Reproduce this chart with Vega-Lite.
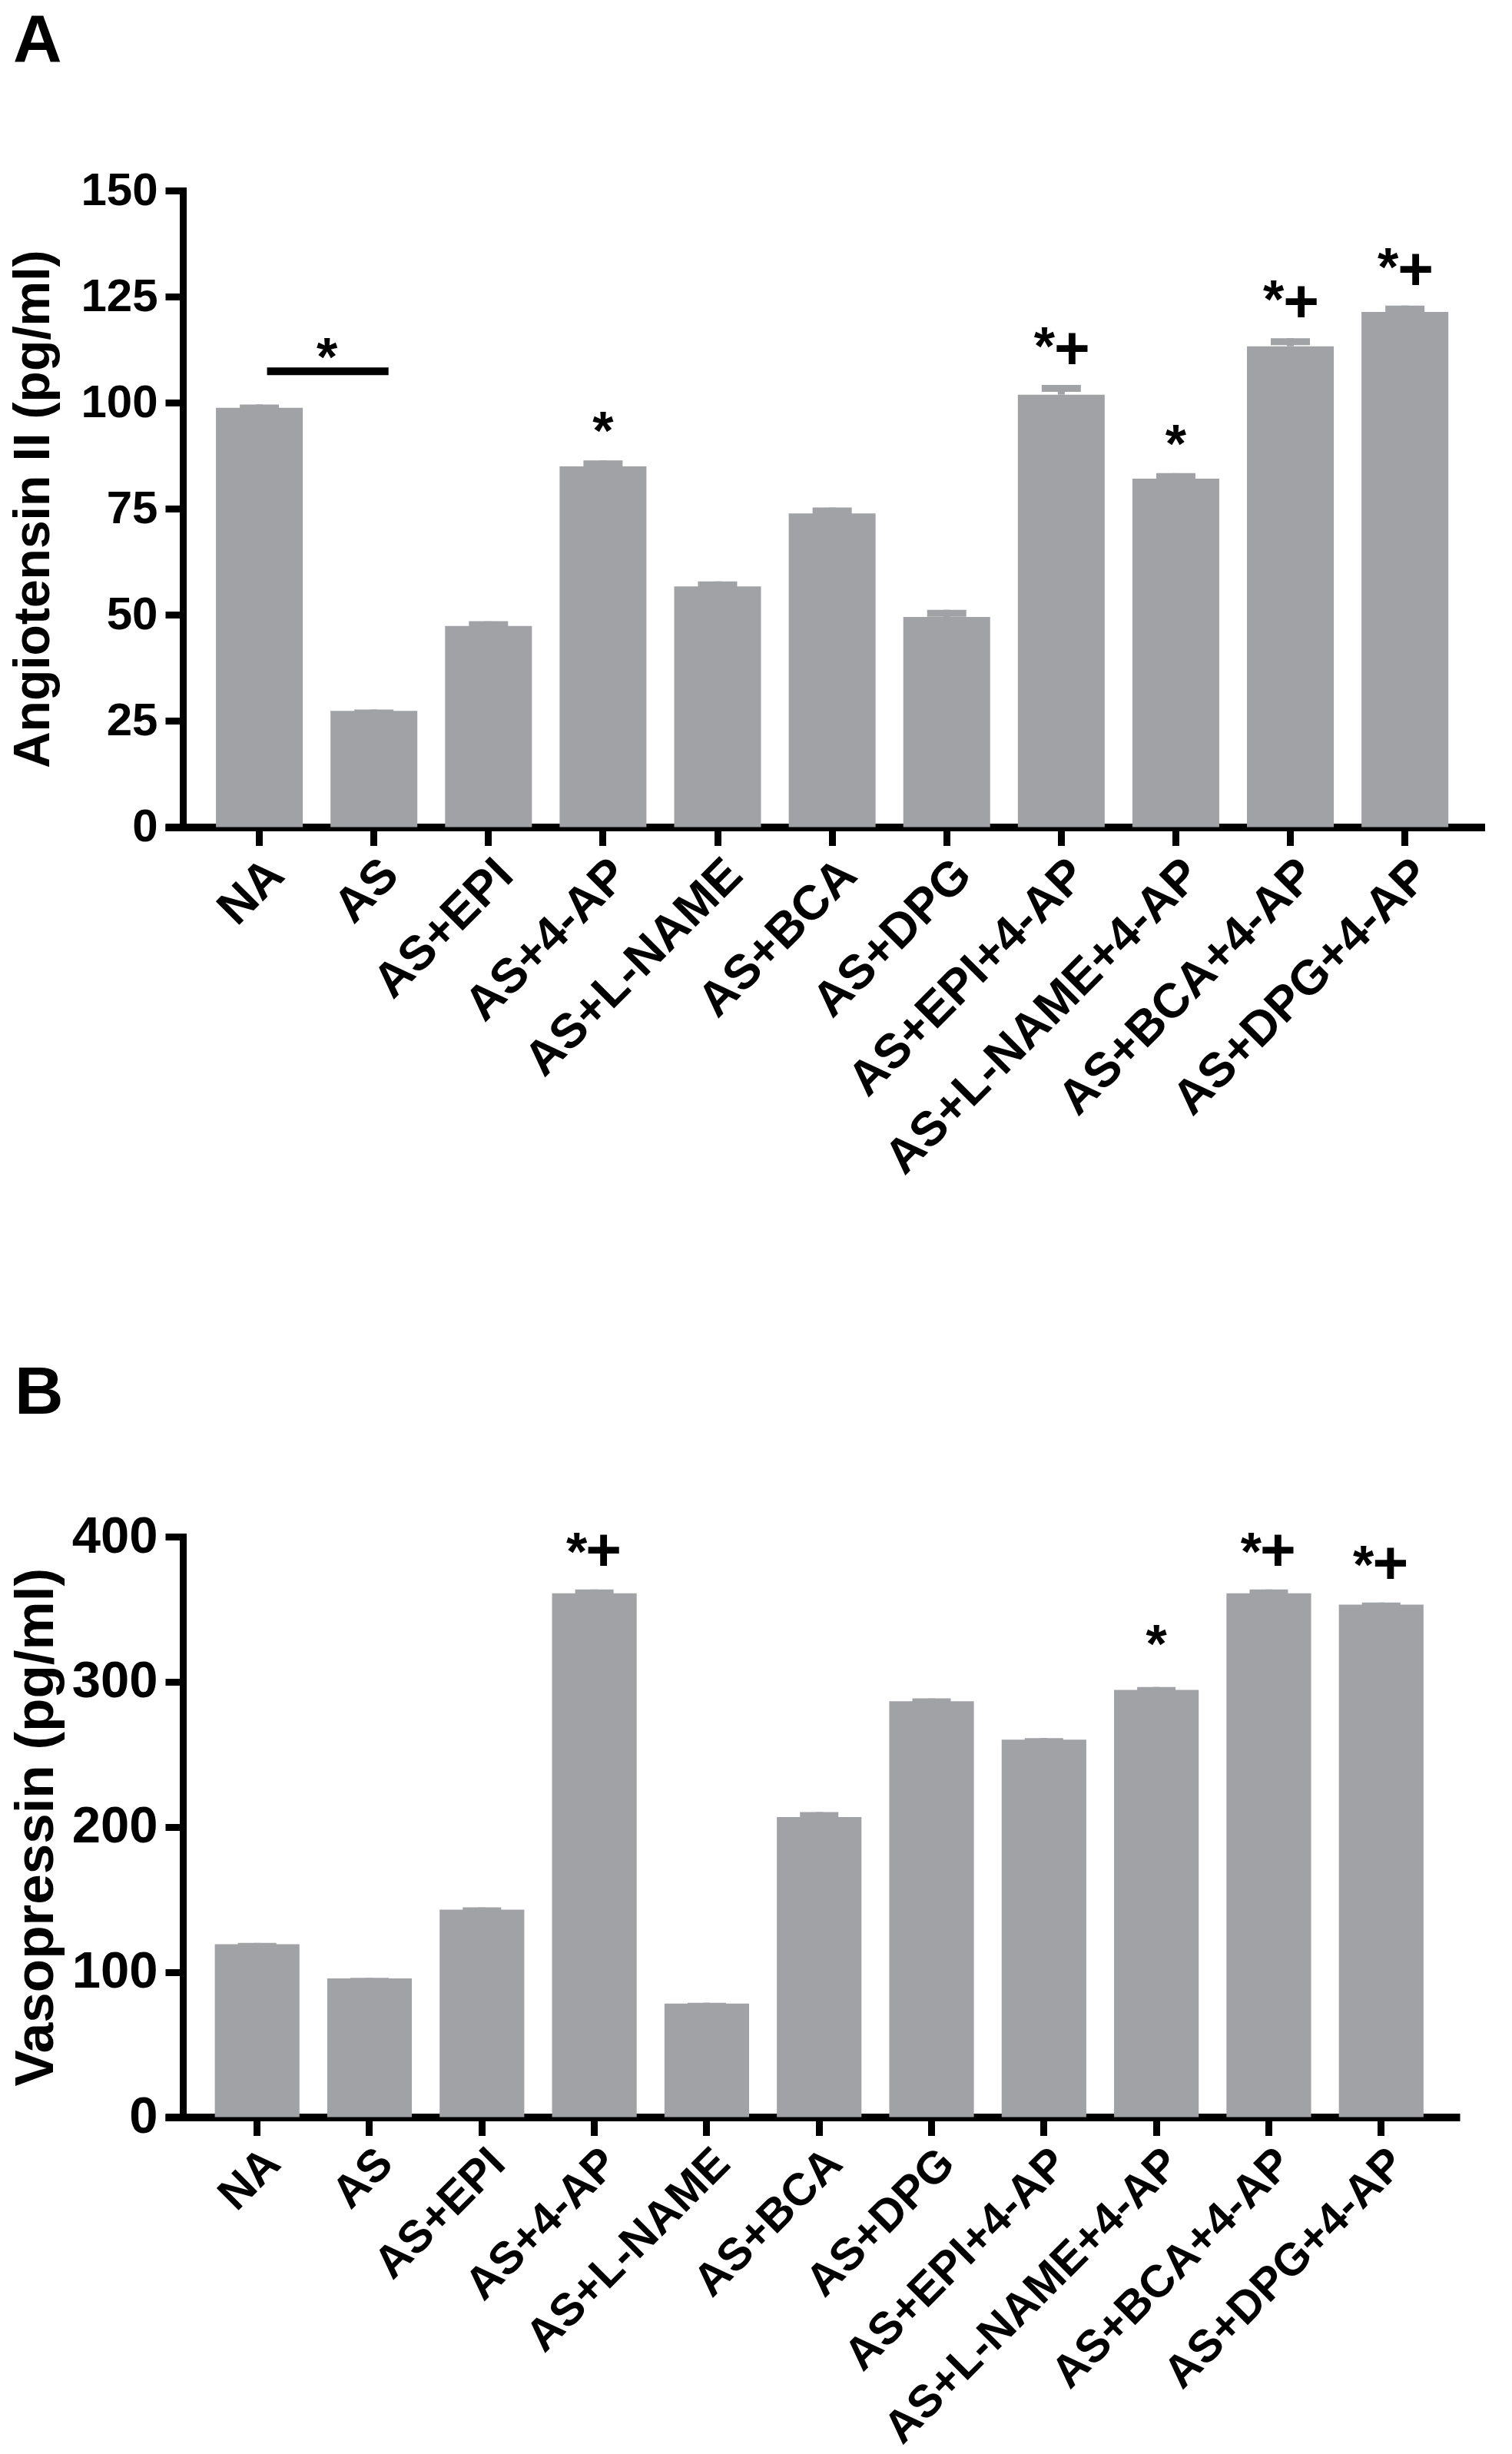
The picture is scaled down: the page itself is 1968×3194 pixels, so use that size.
{
  "$schema": "https://vega.github.io/schema/vega-lite/v6.json",
  "padding": {"left": 10, "top": 10, "right": 0, "bottom": 0},
  "bounds": "flush",
  "spacing": 923,
  "background": "white",
  "config": {
    "view": {"stroke": null},
    "font": "Liberation Sans",
    "axisY": {
      "domainColor": "black", "domainWidth": 9, "domainCap": "square",
      "tickColor": "black", "tickWidth": 9, "tickSize": 23, "tickCap": "butt",
      "labelFont": "Liberation Sans", "labelFontSize": 60, "labelFontWeight": "bold", "labelColor": "black", "labelPadding": 10,
      "titleFont": "Liberation Sans", "titleFontSize": 66, "titleFontWeight": "bold", "titleColor": "black", "titlePadding": 27,
      "grid": false, "offset": -23, "zindex": 2
    },
    "axisX": {
      "domainColor": "black", "domainWidth": 10, "domainCap": "butt",
      "tickColor": "black", "tickWidth": 9, "tickSize": 24,
      "labelFont": "Liberation Sans", "labelFontSize": 63, "labelFontWeight": "bold", "labelColor": "black", "labelPadding": 6,
      "labelAngle": -45, "labelAlign": "right", "labelBaseline": "top", "labelLimit": 2000,
      "grid": false, "title": null, "zindex": 2
    }
  },
  "datasets": {
    "angio": [
      {"group": "NA", "mean": 98.8, "upper": 99.6, "sig": ""},
      {"group": "AS", "mean": 27.4, "upper": 27.7, "sig": ""},
      {"group": "AS+EPI", "mean": 47.4, "upper": 48.5, "sig": ""},
      {"group": "AS+4-AP", "mean": 85.0, "upper": 86.4, "sig": "*"},
      {"group": "AS+L-NAME", "mean": 56.7, "upper": 57.9, "sig": ""},
      {"group": "AS+BCA", "mean": 73.9, "upper": 75.3, "sig": ""},
      {"group": "AS+DPG", "mean": 49.5, "upper": 51.2, "sig": ""},
      {"group": "AS+EPI+4-AP", "mean": 101.9, "upper": 104.2, "sig": "*+"},
      {"group": "AS+L-NAME+4-AP", "mean": 82.1, "upper": 83.4, "sig": "*"},
      {"group": "AS+BCA+4-AP", "mean": 113.3, "upper": 115.2, "sig": "*+"},
      {"group": "AS+DPG+4-AP", "mean": 121.4, "upper": 122.9, "sig": "*+"}
    ],
    "vaso": [
      {"group": "NA", "mean": 119.1, "upper": 120.0, "sig": ""},
      {"group": "AS", "mean": 95.6, "upper": 95.9, "sig": ""},
      {"group": "AS+EPI", "mean": 143.0, "upper": 144.5, "sig": ""},
      {"group": "AS+4-AP", "mean": 360.9, "upper": 363.6, "sig": "*+"},
      {"group": "AS+L-NAME", "mean": 78.2, "upper": 78.8, "sig": ""},
      {"group": "AS+BCA", "mean": 206.8, "upper": 210.2, "sig": ""},
      {"group": "AS+DPG", "mean": 286.5, "upper": 288.5, "sig": ""},
      {"group": "AS+EPI+4-AP", "mean": 260.1, "upper": 261.2, "sig": ""},
      {"group": "AS+L-NAME+4-AP", "mean": 294.4, "upper": 296.4, "sig": "*"},
      {"group": "AS+BCA+4-AP", "mean": 360.9, "upper": 363.6, "sig": "*+"},
      {"group": "AS+DPG+4-AP", "mean": 353.1, "upper": 354.6, "sig": "*+"}
    ],
    "bracket": [
      {"from": "NA", "to": "AS", "level": 107.4, "text": "*"}
    ]
  },
  "vconcat": [
    {
      "title": {"text": "A", "anchor": "start", "frame": "group", "font": "Liberation Sans", "fontSize": 88, "fontWeight": "bold", "color": "black", "baseline": "top", "offset": 0, "dx": -198, "dy": -120},
      "width": 1718,
      "height": 828.5,
      "data": {"name": "angio"},
      "encoding": {
        "x": {"field": "group", "type": "nominal", "sort": null,
              "scale": {"paddingInner": 0.242, "paddingOuter": 0.382, "align": 0.58}}
      },
      "layer": [
        {"mark": {"type": "bar", "color": "#a1a2a6"},
         "encoding": {"y": {"field": "mean", "type": "quantitative", "title": "Angiotensin II (pg/ml)",
                            "scale": {"domain": [0, 150], "nice": false}, "axis": {"values": [0, 25, 50, 75, 100, 125, 150]}}}},
        {"mark": {"type": "rule", "color": "#a1a2a6", "strokeWidth": 9},
         "encoding": {"y": {"field": "mean", "type": "quantitative", "title": "Angiotensin II (pg/ml)", "scale": {"domain": [0, 150], "nice": false}, "axis": {"values": [0, 25, 50, 75, 100, 125, 150]}}, "y2": {"field": "upper"}}},
        {"mark": {"type": "tick", "color": "#a1a2a6", "thickness": 9, "size": 51, "yOffset": 4.5, "opacity": 1},
         "encoding": {"y": {"field": "upper", "type": "quantitative", "title": "Angiotensin II (pg/ml)", "scale": {"domain": [0, 150], "nice": false}, "axis": {"values": [0, 25, 50, 75, 100, 125, 150]}}}},
        {"transform": [{"filter": "datum.sig == '*'"}],
         "mark": {"type": "text", "text": "*", "font": "Liberation Sans", "fontWeight": "bold", "fontSize": 70, "color": "black", "baseline": "alphabetic", "align": "center", "dy": -14},
         "encoding": {"y": {"field": "upper", "type": "quantitative", "title": "Angiotensin II (pg/ml)", "scale": {"domain": [0, 150], "nice": false}, "axis": {"values": [0, 25, 50, 75, 100, 125, 150]}}}},
        {"transform": [{"filter": "datum.sig == '*+'"}],
         "mark": {"type": "text", "text": "*", "font": "Liberation Sans", "fontWeight": "bold", "fontSize": 70, "color": "black", "baseline": "alphabetic", "align": "center", "dx": -22, "dy": -26},
         "encoding": {"y": {"field": "upper", "type": "quantitative", "title": "Angiotensin II (pg/ml)", "scale": {"domain": [0, 150], "nice": false}, "axis": {"values": [0, 25, 50, 75, 100, 125, 150]}}}},
        {"transform": [{"filter": "datum.sig == '*+'"}],
         "mark": {"type": "text", "text": "+", "font": "Liberation Sans", "fontWeight": "bold", "fontSize": 80, "color": "black", "baseline": "alphabetic", "align": "center", "dx": 14, "dy": -21},
         "encoding": {"y": {"field": "upper", "type": "quantitative", "title": "Angiotensin II (pg/ml)", "scale": {"domain": [0, 150], "nice": false}, "axis": {"values": [0, 25, 50, 75, 100, 125, 150]}}}},
        {"data": {"name": "bracket"},
         "mark": {"type": "rule", "color": "black", "strokeWidth": 10, "strokeCap": "butt", "xOffset": 10, "x2Offset": 19},
         "encoding": {"x": {"field": "from", "type": "nominal", "sort": null}, "x2": {"field": "to"},
                      "y": {"field": "level", "type": "quantitative", "title": "Angiotensin II (pg/ml)", "scale": {"domain": [0, 150], "nice": false}, "axis": {"values": [0, 25, 50, 75, 100, 125, 150]}}}},
        {"data": {"name": "bracket"},
         "mark": {"type": "text", "font": "Liberation Sans", "fontWeight": "bold", "fontSize": 70, "color": "black", "baseline": "alphabetic", "align": "center", "dx": 88, "dy": 6},
         "encoding": {"x": {"field": "from", "type": "nominal", "sort": null}, "text": {"field": "text"},
                      "y": {"field": "level", "type": "quantitative", "title": "Angiotensin II (pg/ml)", "scale": {"domain": [0, 150], "nice": false}, "axis": {"values": [0, 25, 50, 75, 100, 125, 150]}}}}
      ]
    },
    {
      "title": {"text": "B", "anchor": "start", "frame": "group", "font": "Liberation Sans", "fontSize": 88, "fontWeight": "bold", "color": "black", "baseline": "top", "offset": 0, "dx": -196, "dy": -108.5},
      "width": 1685,
      "height": 755.5,
      "data": {"name": "vaso"},
      "encoding": {
        "x": {"field": "group", "type": "nominal", "sort": null,
              "scale": {"paddingInner": 0.247, "paddingOuter": 0.382, "align": 0.578},
              "axis": {"labelFontSize": 59}}
      },
      "layer": [
        {"mark": {"type": "bar", "color": "#a1a2a6"},
         "encoding": {"y": {"field": "mean", "type": "quantitative", "title": "Vasopressin (pg/ml)",
                            "scale": {"domain": [0, 400], "nice": false}, "axis": {"values": [0, 100, 200, 300, 400], "titleFontSize": 71, "labelFontSize": 67, "titlePadding": 10}}}},
        {"mark": {"type": "rule", "color": "#a1a2a6", "strokeWidth": 9},
         "encoding": {"y": {"field": "mean", "type": "quantitative", "title": "Vasopressin (pg/ml)", "scale": {"domain": [0, 400], "nice": false}, "axis": {"values": [0, 100, 200, 300, 400], "titleFontSize": 71, "labelFontSize": 67, "titlePadding": 10}}, "y2": {"field": "upper"}}},
        {"mark": {"type": "tick", "color": "#a1a2a6", "thickness": 9, "size": 50, "yOffset": 4.5, "opacity": 1},
         "encoding": {"y": {"field": "upper", "type": "quantitative", "title": "Vasopressin (pg/ml)", "scale": {"domain": [0, 400], "nice": false}, "axis": {"values": [0, 100, 200, 300, 400], "titleFontSize": 71, "labelFontSize": 67, "titlePadding": 10}}}},
        {"transform": [{"filter": "datum.sig == '*'"}],
         "mark": {"type": "text", "text": "*", "font": "Liberation Sans", "fontWeight": "bold", "fontSize": 70, "color": "black", "baseline": "alphabetic", "align": "center", "dy": -32},
         "encoding": {"y": {"field": "upper", "type": "quantitative", "title": "Vasopressin (pg/ml)", "scale": {"domain": [0, 400], "nice": false}, "axis": {"values": [0, 100, 200, 300, 400], "titleFontSize": 71, "labelFontSize": 67, "titlePadding": 10}}}},
        {"transform": [{"filter": "datum.sig == '*+'"}],
         "mark": {"type": "text", "text": "*", "font": "Liberation Sans", "fontWeight": "bold", "fontSize": 70, "color": "black", "baseline": "alphabetic", "align": "center", "dx": -23, "dy": -25},
         "encoding": {"y": {"field": "upper", "type": "quantitative", "title": "Vasopressin (pg/ml)", "scale": {"domain": [0, 400], "nice": false}, "axis": {"values": [0, 100, 200, 300, 400], "titleFontSize": 71, "labelFontSize": 67, "titlePadding": 10}}}},
        {"transform": [{"filter": "datum.sig == '*+'"}],
         "mark": {"type": "text", "text": "+", "font": "Liberation Sans", "fontWeight": "bold", "fontSize": 80, "color": "black", "baseline": "alphabetic", "align": "center", "dx": 12, "dy": -25},
         "encoding": {"y": {"field": "upper", "type": "quantitative", "title": "Vasopressin (pg/ml)", "scale": {"domain": [0, 400], "nice": false}, "axis": {"values": [0, 100, 200, 300, 400], "titleFontSize": 71, "labelFontSize": 67, "titlePadding": 10}}}}
      ]
    }
  ]
}
